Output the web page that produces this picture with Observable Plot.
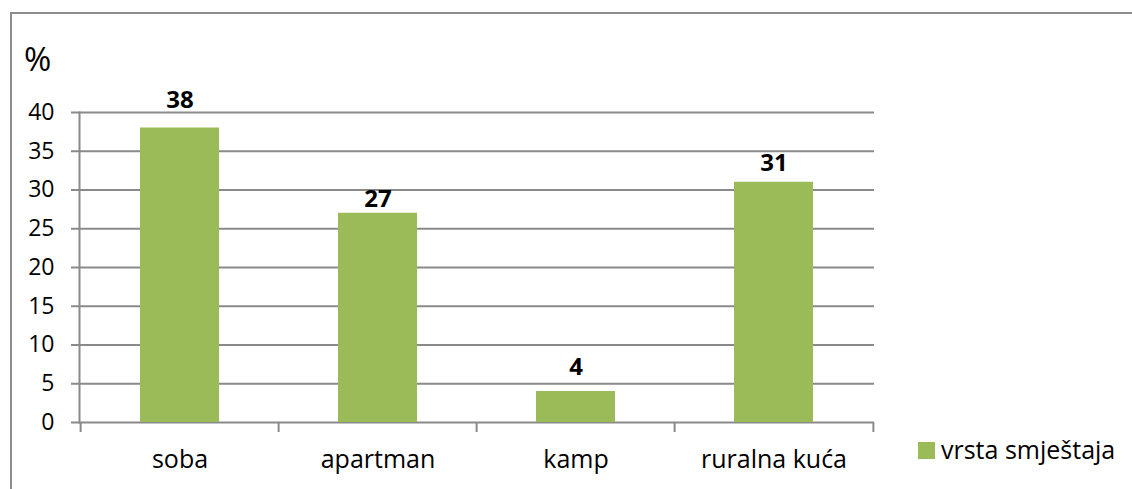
<!DOCTYPE html>
<html>
<head>
<meta charset="utf-8">
<script src="https://cdn.jsdelivr.net/npm/d3@7"></script>
<script src="https://cdn.jsdelivr.net/npm/@observablehq/plot@0.6"></script>
<style>
  html, body { margin: 0; padding: 0; background: #fff; }
  #wrap { position: relative; width: 1132px; height: 489px; overflow: hidden; font-family: "Open Sans", sans-serif; }
  #border { position: absolute; left: 10px; top: 12px; right: -10px; bottom: -10px; border-left: 2px solid #8c8c8c; border-top: 2px solid #8c8c8c; }
  #unit { position: absolute; left: 24px; top: 42px; font-size: 33px; line-height: 33px; color: #000; }
  #legend-swatch { position: absolute; left: 918px; top: 442px; width: 17px; height: 17px; background: #9BBB59; }
  #legend-text { position: absolute; left: 941px; top: 437px; font-size: 25px; line-height: 25px; color: #000; white-space: nowrap; }
  #chart { position: absolute; left: 0; top: 0; }
</style>
</head>
<body>
<div id="wrap">
  <div id="border"></div>
  <div id="chart"></div>
  <div id="unit">%</div>
  <div id="legend-swatch"></div>
  <div id="legend-text">vrsta smještaja</div>
</div>
<script>
const categories = ["soba", "apartman", "kamp", "ruralna kuća"];
const values = [38, 27, 4, 31];
const yTicks = [0, 5, 10, 15, 20, 25, 30, 35, 40];
const seriesName = "vrsta smještaja";

// style: vertical gap (px) between each bar top and its value label, as placed in the original
const labelGaps = [20, 6, 17, 11];

const data = categories.map((c, i) => ({category: c, value: values[i], gap: labelGaps[i]}));

const W = 1132, H = 489;
const mL = 79, mR = 258, mT = 112, mB = 67;
const step = (W - mL - mR) / categories.length;
const gray = "#8a8a8a";

const labels = data.map(d =>
  Plot.text([d], {x: "category", y: "value", text: r => String(r.value), lineAnchor: "bottom", dy: -d.gap, fontWeight: "bold", fontSize: 24, fill: "#000"})
);

const plot = Plot.plot({
  width: W,
  height: H,
  marginLeft: mL,
  marginRight: mR,
  marginTop: mT,
  marginBottom: mB,
  style: {fontFamily: "'Open Sans', sans-serif", fontSize: "23px", color: "#000", background: "transparent", overflow: "visible"},
  x: {domain: categories, paddingInner: 0.6, paddingOuter: 0.3, label: null},
  y: {domain: [0, 40], label: null},
  marks: [
    Plot.ruleY(yTicks, {y: d => d, stroke: gray, strokeWidth: 2, insetLeft: -8}),
    Plot.frame({anchor: "left", stroke: gray, strokeWidth: 2}),
    Plot.ruleX(categories, {x: d => d, dx: -step / 2, y1: 0, y2: 0, insetBottom: -10, stroke: gray, strokeWidth: 2}),
    Plot.ruleX(categories.slice(-1), {x: d => d, dx: step / 2, y1: 0, y2: 0, insetBottom: -10, stroke: gray, strokeWidth: 2}),
    Plot.barY(data, {x: "category", y: "value", fill: "#9BBB59"}),
    ...labels,
    Plot.axisY({ticks: yTicks, tickSize: 0, tickPadding: 25, fontSize: 23, fill: "#000"}),
    Plot.axisX({tickSize: 0, tickPadding: 28, fontSize: 25, fill: "#000"})
  ]
});
document.getElementById("chart").appendChild(plot);
</script>
</body>
</html>
